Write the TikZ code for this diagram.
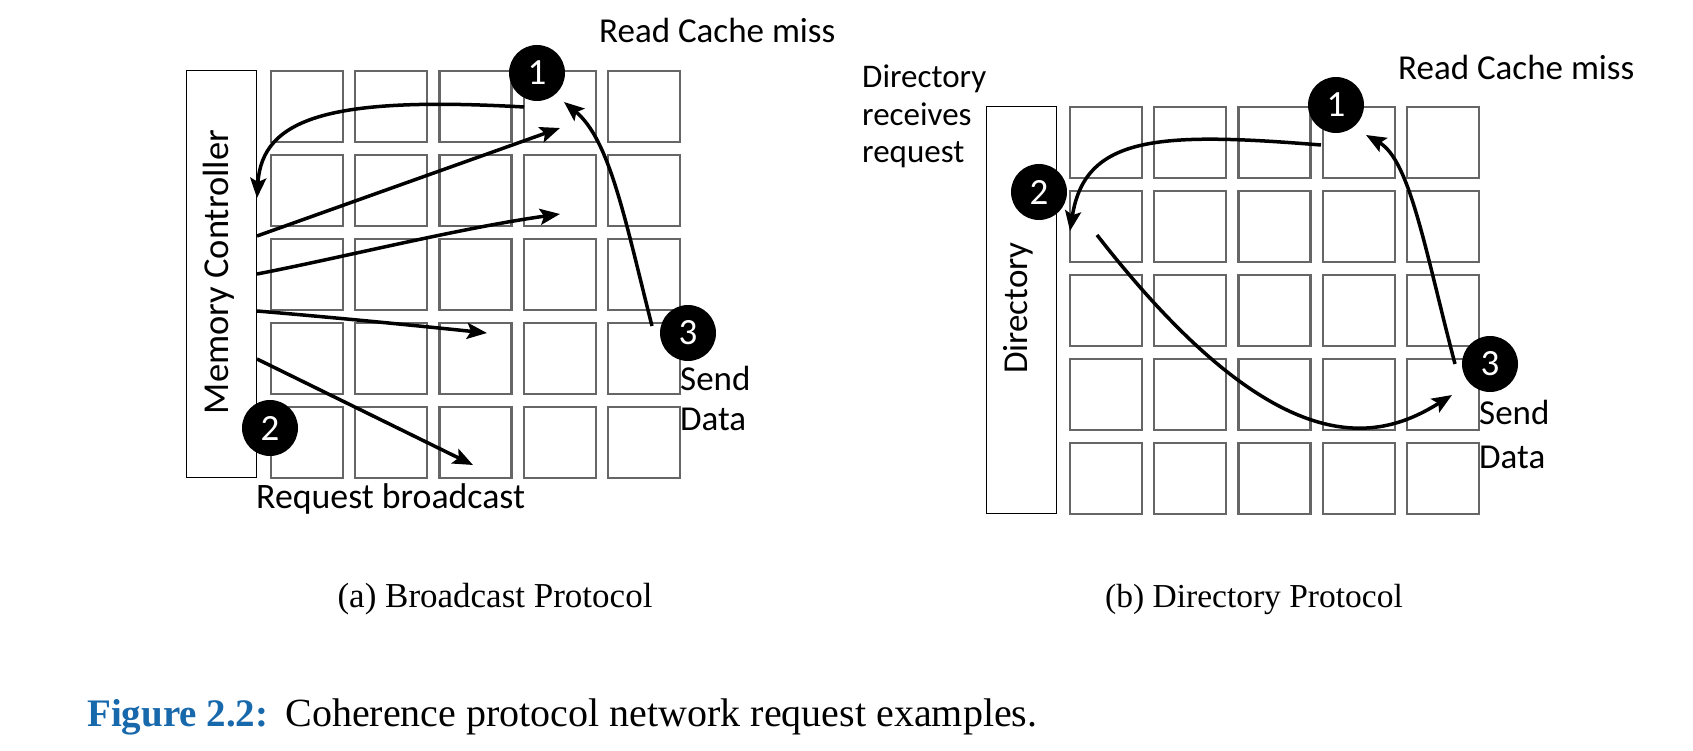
\documentclass[tikz,border=0pt]{standalone}
\usepackage{fontspec}
\setmainfont{Liberation Serif}
\newfontfamily\calib{Carlito}
\usetikzlibrary{arrows.meta}
\definecolor{capblue}{RGB}{24,104,172}
\begin{document}
\begin{tikzpicture}[x=1pt,y=-1pt,
  cell/.style={draw=black!60, line width=2.2pt, minimum width=72pt, minimum height=71pt, inner sep=0pt, anchor=north west},
  ctrl/.style={draw=black, line width=1.2pt, minimum width=70pt, minimum height=407pt, inner sep=0pt, anchor=north west},
  marker/.style={circle, fill=black, minimum size=56pt, inner sep=0pt, text=white, font=\calib\fontsize{37}{42}\selectfont},
  lbl/.style={font=\calib\fontsize{35}{42}\selectfont, inner sep=0pt},
  flow/.style={line width=3.5pt, -{Stealth[length=20pt,width=16pt,inset=4pt]}},
  capt/.style={font=\fontsize{35}{42}\selectfont, inner sep=0pt},
]
\useasboundingbox (0,0) rectangle (1693,751);

% ---------- panel (a) ----------
\node[ctrl] (mc) at (186,70) {};
\foreach \i in {0,...,4}
  \foreach \j in {0,...,4}
    \node[cell] (a-\i-\j) at ({270+84.2*\i},{70+84*\j}) {};
\node[lbl, rotate=90, font=\calib\fontsize{36.5}{42}\selectfont] (mclbl) at (219,272) {Memory Controller};
\node[lbl, anchor=west] (arcm) at (599,30) {Read Cache miss};
\node[lbl, anchor=west, font=\calib\fontsize{35.8}{42}\selectfont] (arb) at (256,499) {Request broadcast};
\node[lbl, anchor=north west, align=left, execute at begin node={\setlength{\baselineskip}{40pt}}] (asd) at (680,366) {Send\\Data};

\coordinate (a1s) at (524,107); \coordinate (a1e) at (257,198);
\coordinate (a2s) at (257,236); \coordinate (a2e) at (560,128);
\coordinate (a3s) at (257,274); \coordinate (a3e) at (560,214);
\coordinate (a4s) at (257,311); \coordinate (a4e) at (487,333);
\coordinate (a5s) at (257,359); \coordinate (a5e) at (473,465);
\coordinate (a6s) at (652,326); \coordinate (a6e) at (564,102);
\draw[flow] (a1s) .. controls (330,96) and (262,118) .. (a1e);
\draw[flow] (a2s) -- (a2e);
\draw[flow] (a3s) .. controls (340,258) and (460,228) .. (a3e);
\draw[flow] (a4s) .. controls (340,318) and (420,326) .. (a4e);
\draw[flow] (a5s) -- (a5e);
\draw[flow] (a6s) .. controls (625,220) and (610,140) .. (a6e);

\node[marker] (ac1) at (537,73) {1};
\node[marker] (ac2) at (270,428) {2};
\node[marker] (ac3) at (688,333) {3};

% ---------- panel (b) ----------
\node[ctrl] (dir) at (986,106) {};
\foreach \i in {0,...,4}
  \foreach \j in {0,...,4}
    \node[cell] (b-\i-\j) at ({1069+84.2*\i},{106+84*\j}) {};
\node[lbl, rotate=90] (dirlbl) at (1018,308) {Directory};
\node[lbl, anchor=west] (brcm) at (1398,67) {Read Cache miss};
\node[lbl, anchor=north west, align=left, font=\calib\fontsize{33}{37.5}\selectfont] (bdr) at (862,65) {Directory\\receives\\request};
\node[lbl, anchor=north west, align=left, execute at begin node={\setlength{\baselineskip}{44pt}}] (bsd) at (1479,400) {Send\\Data};

\coordinate (b1s) at (1321,145); \coordinate (b1e) at (1070,231);
\coordinate (b2s) at (1097,235); \coordinate (b2e) at (1452,395);
\coordinate (b3s) at (1455,364); \coordinate (b3e) at (1366,135);
\draw[flow] (b1s) .. controls (1160,132) and (1085,135) .. (b1e);
\draw[flow] (b2s) .. controls (1280,470) and (1380,440) .. (b2e);
\draw[flow] (b3s) .. controls (1425,250) and (1410,160) .. (b3e);

\node[marker] (bc1) at (1336,105) {1};
\node[marker] (bc2) at (1039,192) {2};
\node[marker] (bc3) at (1490,364) {3};

% ---------- captions ----------
\node[capt] (capa) at (495,599) {(a) Broadcast Protocol};
\node[capt, font=\fontsize{33.5}{42}\selectfont] (capb) at (1254,599) {(b) Directory Protocol};
\node[capt, anchor=west, font=\fontsize{40}{46}\selectfont] (fig) at (87,717)
  {\textbf{\color{capblue}\fontsize{39}{46}\selectfont Figure 2.2:}\hspace{17pt}Coherence protocol network request examples.};
\end{tikzpicture}
\end{document}
